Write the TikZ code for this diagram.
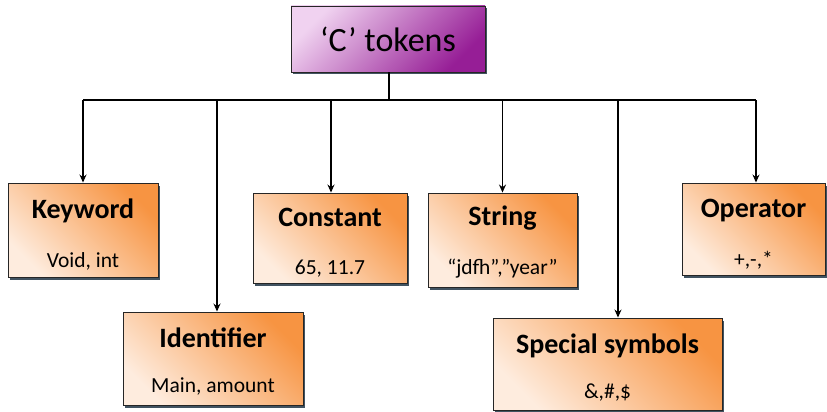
\documentclass[tikz,border=0pt]{standalone}
\usepackage{fontspec}
\setmainfont{Carlito}
\usetikzlibrary{shadows,arrows.meta}
\definecolor{orDark}{RGB}{247,148,66}
\definecolor{orLight}{RGB}{254,236,222}
\definecolor{puDark}{RGB}{150,30,150}
\definecolor{puLight}{RGB}{240,210,240}
\definecolor{shadowc}{RGB}{45,65,80}
\begin{document}
\begin{tikzpicture}[x=1pt,y=-1pt,
  box/.style={draw=black!85, line width=0.9pt, inner sep=0pt,
    top color=orDark, bottom color=orLight, shading angle=-45,
    drop shadow={shadow xshift=2pt, shadow yshift=-2.5pt, fill=shadowc, opacity=0.9}},
  titlebox/.style={draw=black!85, line width=0.9pt, inner sep=0pt,
    top color=puLight, bottom color=puDark, shading angle=45,
    drop shadow={shadow xshift=2pt, shadow yshift=-2.5pt, fill=shadowc, opacity=0.9}},
  head/.style={font=\fontsize{28}{30}\selectfont\bfseries, inner sep=0pt},
  sub/.style={font=\fontsize{21.5}{23}\selectfont, inner sep=0pt},
  conn/.style={line width=1.4pt, black},
  arr/.style={conn, -{Stealth[length=8pt,width=7pt]}},
]
\useasboundingbox (0,0) rectangle (827,412);
\fill[white] (0,0) rectangle (827,412);

\node[titlebox, minimum width=194pt, minimum height=66pt] (title) at (388,39)
  {\fontsize{34}{38}\selectfont ‘C’ tokens};

\node[box, minimum width=150pt, minimum height=94pt] (kw) at (83,230) {};
\node[box, minimum width=180pt, minimum height=93pt] (id) at (213,358.5) {};
\node[box, minimum width=154pt, minimum height=90pt] (co) at (330,238) {};
\node[box, minimum width=149pt, minimum height=94pt] (st) at (502.5,240) {};
\node[box, minimum width=229pt, minimum height=92pt] (sp) at (607.5,364) {};
\node[box, minimum width=143pt, minimum height=92pt] (op) at (753.5,229) {};

\node[head] (kwT) at ([yshift=-28pt]kw.north) {Keyword};
\node[sub]  (kwS) at ([yshift=16pt]kw.south) {Void, int};
\node[head] (idT) at ([yshift=-26pt]id.north) {Identifier};
\node[sub]  (idS) at ([yshift=19pt]id.south) {Main, amount};
\node[head] (coT) at ([yshift=-25pt]co.north) {Constant};
\node[sub]  (coS) at ([yshift=15pt]co.south) {65, 11.7};
\node[head] (stT) at ([yshift=-25pt]st.north) {String};
\node[sub]  (stS) at ([yshift=19pt]st.south) {“jdfh”,”year”};
\node[head] (spT) at ([yshift=-28pt]sp.north) {Special symbols};
\node[sub]  (spS) at ([yshift=18pt]sp.south) {\&,\#,\$};
\node[head] (opT) at ([yshift=-28pt]op.north) {Operator};
\node[sub]  (opS) at ([yshift=15pt]op.south) {+,-,*};

\coordinate (hub) at (389,100);
\coordinate (kwA) at (kw.north);
\coordinate (idA) at ([xshift=4pt]id.north);
\coordinate (coA) at ([xshift=1pt]co.north);
\coordinate (stA) at (st.north);
\coordinate (spA) at ([xshift=10.5pt]sp.north);
\coordinate (opA) at ([xshift=2.5pt]op.north);

\draw[conn] ([xshift=1pt]title.south) -- ([xshift=1pt]title.south |- hub);
\draw[conn] (kwA |- hub) -- (opA |- hub);
\foreach \a in {kwA,idA,coA,stA,spA,opA}
  \draw[arr] (\a |- hub) -- (\a);
\end{tikzpicture}
\end{document}
